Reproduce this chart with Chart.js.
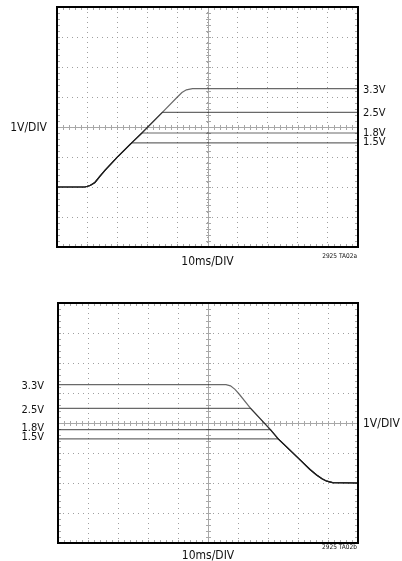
<!DOCTYPE html>
<html lang="en">
<head>
<meta charset="UTF-8" />
<script src="https://cdn.jsdelivr.net/npm/chart.js"></script>
<style>
  body { margin: 0; background: #fff; width: 402px; height: 561px; position: relative; overflow: hidden; }
  canvas { position: absolute; left: 0; }
  #topScope { top: 0; }
  #bottomScope { top: 280px; }
</style>
</head>
<body>
<canvas id="topScope" width="402" height="280"></canvas>
<canvas id="bottomScope" width="402" height="281"></canvas>
<script>
// scope screen: 10 x 8 divisions, 10ms/DIV and 1V/DIV
const timeMin = 0, timeMax = 100;
const voltMin = -2, voltMax = 6;
const levelLabels = ["3.3V", "2.5V", "1.8V", "1.5V"];

// start-up: each output follows the soft-start ramp until its own level
const riseTime33 = [0, 9.3, 11, 12.6, 14.3, 16, 19.8, 24.8, 28.2, 35, 40, 41.5, 43, 45, 100];
const riseVolt33 = [0, 0, 0.05, 0.15, 0.36, 0.56, 0.97, 1.47, 1.8, 2.49, 3.0, 3.15, 3.24, 3.28, 3.28];
const riseTime25 = [0, 9.3, 11, 12.6, 14.3, 16, 19.8, 24.8, 28.2, 35, 100];
const riseVolt25 = [0, 0, 0.05, 0.15, 0.36, 0.56, 0.97, 1.47, 1.8, 2.49, 2.49];
const riseTime18 = [0, 9.3, 11, 12.6, 14.3, 16, 19.8, 24.8, 28.2, 100];
const riseVolt18 = [0, 0, 0.05, 0.15, 0.36, 0.56, 0.97, 1.47, 1.8, 1.8];
const riseTime15 = [0, 9.3, 11, 12.6, 14.3, 16, 19.8, 24.8, 100];
const riseVolt15 = [0, 0, 0.05, 0.15, 0.36, 0.56, 0.97, 1.47, 1.47];

// shutdown: outputs hold until the falling ramp crosses them
const fallTime33 = [0, 56, 57.5, 59, 60.5, 64.2, 70.8, 73.4, 80.7, 84, 86.2, 88, 89.6, 91.5, 100];
const fallVolt33 = [3.28, 3.28, 3.24, 3.12, 2.95, 2.49, 1.78, 1.47, 0.77, 0.45, 0.27, 0.14, 0.06, 0.01, 0];
const fallTime25 = [0, 64.2, 70.8, 73.4, 80.7, 84, 86.2, 88, 89.6, 91.5, 100];
const fallVolt25 = [2.49, 2.49, 1.78, 1.47, 0.77, 0.45, 0.27, 0.14, 0.06, 0.01, 0];
const fallTime18 = [0, 70.8, 73.4, 80.7, 84, 86.2, 88, 89.6, 91.5, 100];
const fallVolt18 = [1.78, 1.78, 1.47, 0.77, 0.45, 0.27, 0.14, 0.06, 0.01, 0];
const fallTime15 = [0, 73.4, 80.7, 84, 86.2, 88, 89.6, 91.5, 100];
const fallVolt15 = [1.47, 1.47, 0.77, 0.45, 0.27, 0.14, 0.06, 0.01, 0];

const labelFont = '"Liberation Sans Narrow", "DejaVu Sans Condensed", sans-serif';

function toPoints(ts, vs) {
  return ts.map((t, i) => ({ x: t, y: vs[i] }));
}

function trace(ts, vs) {
  return {
    data: toPoints(ts, vs),
    borderColor: "rgba(25,25,25,0.65)",
    borderWidth: 1.2,
    pointRadius: 0,
    fill: false,
    tension: 0,
  };
}

// graticule extras, frame and texts
const scopePlugin = {
  id: "scope",
  beforeDatasetsDraw(chart) {
    const { ctx, chartArea: a, scales } = chart;
    const x = scales.x, y = scales.y;
    const cx = Math.round(x.getPixelForValue(50)) + 0.5;
    const cy = Math.round(y.getPixelForValue(2)) + 0.5;
    ctx.save();
    ctx.strokeStyle = "#a8a8a8";
    ctx.lineWidth = 1;
    ctx.beginPath();
    ctx.moveTo(a.left, cy); ctx.lineTo(a.right, cy);
    ctx.moveTo(cx, a.top); ctx.lineTo(cx, a.bottom);
    for (let i = 0; i <= 50; i++) {
      const px = Math.round(x.getPixelForValue(timeMin + i * 2)) + 0.5;
      ctx.moveTo(px, cy - 2.5); ctx.lineTo(px, cy + 2.5);
      ctx.moveTo(px, a.top); ctx.lineTo(px, a.top + 3);
      ctx.moveTo(px, a.bottom); ctx.lineTo(px, a.bottom - 3);
    }
    for (let i = 0; i <= 40; i++) {
      const py = Math.round(y.getPixelForValue(voltMin + i * 0.2)) + 0.5;
      ctx.moveTo(cx - 2.5, py); ctx.lineTo(cx + 2.5, py);
      ctx.moveTo(a.left, py); ctx.lineTo(a.left + 3, py);
      ctx.moveTo(a.right, py); ctx.lineTo(a.right - 3, py);
    }
    ctx.stroke();
    ctx.restore();
  },
  afterDatasetsDraw(chart, args, opts) {
    const { ctx, chartArea: a, scales } = chart;
    const y = scales.y;
    ctx.save();
    ctx.strokeStyle = "#000";
    ctx.lineWidth = 2;
    ctx.strokeRect(a.left, a.top, a.right - a.left, a.bottom - a.top);

    ctx.fillStyle = "#111";
    ctx.textBaseline = "middle";
    ctx.font = "11px " + labelFont;
    const levelX = opts.levelSide === "right" ? a.right + 5 : a.left - 14;
    ctx.textAlign = opts.levelSide === "right" ? "left" : "right";
    levelLabels.forEach((txt, i) => {
      ctx.fillText(txt, levelX, y.getPixelForValue(opts.levels[i]) + opts.labelShift[i]);
    });

    ctx.font = "12px " + labelFont;
    const divY = y.getPixelForValue(2) + 1;
    if (opts.levelSide === "right") {
      ctx.textAlign = "right";
      ctx.fillText("1V/DIV", a.left - 10, divY);
    } else {
      ctx.textAlign = "left";
      ctx.fillText("1V/DIV", a.right + 5, divY);
    }

    ctx.textAlign = "center";
    ctx.fillText("10ms/DIV", (a.left + a.right) / 2, a.bottom + opts.timeGap);

    ctx.textAlign = "right";
    ctx.font = "6.5px " + labelFont;
    ctx.fillText(opts.code, a.right - 1, a.bottom + opts.codeGap);
    ctx.restore();
  },
};

function makeScope(id, datasets, pad, scopeOpts) {
  return new Chart(document.getElementById(id), {
    type: "line",
    data: { datasets: datasets },
    options: {
      responsive: false,
      animation: false,
      layout: { padding: pad },
      plugins: { legend: { display: false }, tooltip: { enabled: false }, scope: scopeOpts },
      scales: {
        x: {
          type: "linear",
          min: timeMin,
          max: timeMax,
          ticks: { display: false, stepSize: 10 },
          grid: { color: "#a0a0a0", drawTicks: false, lineWidth: 1 },
          border: { display: false, dash: [1, 4] },
        },
        y: {
          type: "linear",
          min: voltMin,
          max: voltMax,
          ticks: { display: false, stepSize: 1 },
          grid: { color: "#a0a0a0", drawTicks: false, lineWidth: 1 },
          border: { display: false, dash: [1, 4] },
        },
      },
    },
    plugins: [scopePlugin],
  });
}

makeScope(
  "topScope",
  [
    trace(riseTime33, riseVolt33),
    trace(riseTime25, riseVolt25),
    trace(riseTime18, riseVolt18),
    trace(riseTime15, riseVolt15),
  ],
  { left: 57, top: 7, right: 44, bottom: 33 },
  {
    levelSide: "right",
    levels: [3.28, 2.49, 1.8, 1.47],
    labelShift: [2, 1, 0, -1],
    timeGap: 14.5,
    codeGap: 9,
    code: "2925 TA02a",
  }
);

makeScope(
  "bottomScope",
  [
    trace(fallTime33, fallVolt33),
    trace(fallTime25, fallVolt25),
    trace(fallTime18, fallVolt18),
    trace(fallTime15, fallVolt15),
  ],
  { left: 58, top: 23, right: 44, bottom: 18 },
  {
    levelSide: "left",
    levels: [3.28, 2.49, 1.78, 1.47],
    labelShift: [2, 1.5, -1.5, -2],
    timeGap: 13,
    codeGap: 4.5,
    code: "2925 TA02b",
  }
);
</script>
</body>
</html>
